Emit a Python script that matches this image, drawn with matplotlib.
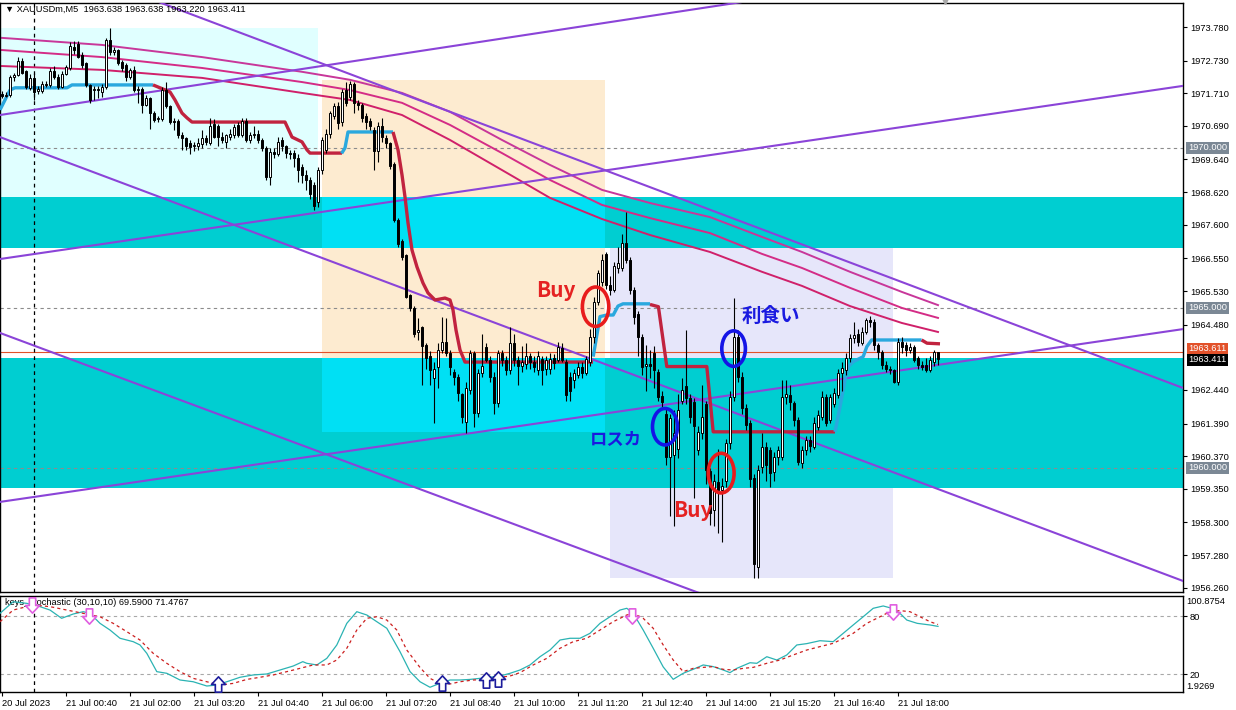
import matplotlib
matplotlib.use('Agg')
import matplotlib.pyplot as plt
import matplotlib.transforms as mtransforms
from matplotlib.patches import Rectangle, Ellipse
from matplotlib.path import Path
import numpy as np

plt.rcParams['font.family'] = ['Liberation Sans', 'DejaVu Sans']

# ---- XAUUSDm M5 candles, bar 0 = 20 Jul 23:20 ----
opens = [1971.68, 1971.62, 1971.66, 1972.23, 1972.28, 1972.73, 1972.40, 1971.86, 1972.20, 1971.78,
         1971.78, 1972.00, 1971.97, 1972.42, 1972.22, 1971.92, 1972.32, 1972.50, 1973.15, 1973.25,
         1972.90, 1972.65, 1971.97, 1971.80, 1971.85, 1971.76, 1971.92, 1973.38, 1973.00, 1973.05,
         1972.70, 1972.60, 1972.23, 1972.45, 1971.80, 1971.85, 1971.35, 1971.55, 1971.08, 1970.90,
         1970.90, 1971.80, 1971.30, 1970.85, 1970.85, 1970.42, 1970.30, 1970.15, 1970.05, 1970.05,
         1970.12, 1970.30, 1970.15, 1970.75, 1970.70, 1970.35, 1970.20, 1970.35, 1970.40, 1970.72,
         1970.42, 1970.85, 1970.25, 1970.40, 1970.45, 1970.25, 1970.00, 1969.10, 1969.88, 1969.82,
         1970.25, 1970.05, 1969.85, 1969.85, 1969.70, 1969.40, 1969.15, 1969.00, 1968.85, 1968.30,
         1969.30, 1969.95, 1970.45, 1971.00, 1971.30, 1970.80, 1971.80, 1971.60, 1972.00, 1971.40,
         1971.35, 1971.00, 1970.85, 1970.55, 1969.90, 1970.70, 1970.30, 1970.15, 1969.50, 1967.75,
         1967.10, 1966.65, 1965.40, 1965.00, 1964.25, 1964.40, 1963.85, 1963.50, 1962.80, 1963.15,
         1963.70, 1963.95, 1963.60, 1963.00, 1962.85, 1962.30, 1961.45, 1962.45, 1963.58, 1961.71,
         1962.96, 1963.79, 1963.38, 1962.85, 1962.02, 1963.58, 1963.38, 1963.06, 1963.90, 1963.38,
         1963.20, 1963.25, 1963.50, 1963.30, 1963.06, 1963.40, 1963.10, 1963.10, 1963.45, 1963.38,
         1963.75, 1963.30, 1962.85, 1962.75, 1962.90, 1963.17, 1962.96, 1963.30, 1964.10, 1965.20,
         1965.80, 1966.70, 1965.72, 1965.55, 1966.25, 1966.25, 1967.02, 1966.50, 1965.56, 1964.80,
         1964.10, 1963.20, 1963.25, 1963.60, 1963.00, 1962.25, 1961.70, 1960.35, 1960.40, 1960.60,
         1962.10, 1962.55, 1962.20, 1962.05, 1960.56, 1961.10, 1962.00, 1959.90, 1958.70, 1959.55,
         1959.30, 1959.60, 1960.77, 1962.23, 1964.10, 1962.85, 1961.86, 1961.40, 1959.70, 1956.90,
         1960.04, 1960.67, 1960.56, 1959.88, 1960.35, 1960.35, 1962.23, 1962.28, 1962.02, 1961.50,
         1960.15, 1960.56, 1960.88, 1960.67, 1961.29, 1961.60, 1962.23, 1961.50, 1962.00, 1962.28,
         1962.96, 1963.06, 1963.43, 1964.05, 1964.20, 1963.90, 1964.26, 1964.63, 1964.57, 1963.84,
         1963.64, 1963.22, 1963.10, 1963.05, 1962.70, 1963.95, 1963.84, 1963.69, 1963.79, 1963.43,
         1963.22, 1963.22, 1963.06, 1963.32, 1963.638]
highs = [1971.78, 1971.75, 1972.28, 1972.35, 1972.85, 1972.80, 1972.45, 1972.30, 1972.35, 1971.95,
         1972.10, 1972.10, 1972.50, 1972.55, 1972.30, 1972.40, 1972.60, 1973.30, 1973.35, 1973.35,
         1973.00, 1972.70, 1972.00, 1971.95, 1971.95, 1972.00, 1973.45, 1973.74, 1973.15, 1973.10,
         1972.75, 1972.65, 1972.50, 1972.55, 1971.95, 1971.90, 1971.65, 1971.60, 1971.15, 1971.00,
         1971.90, 1972.07, 1971.35, 1970.95, 1970.90, 1970.50, 1970.35, 1970.25, 1970.20, 1970.30,
         1970.55, 1970.40, 1970.95, 1970.90, 1970.75, 1970.50, 1970.45, 1970.60, 1970.75, 1970.80,
         1970.95, 1970.95, 1970.50, 1970.70, 1970.55, 1970.30, 1970.05, 1970.00, 1970.00, 1970.35,
         1970.35, 1970.10, 1969.95, 1969.95, 1969.80, 1969.50, 1969.30, 1969.10, 1968.95, 1969.40,
         1970.35, 1970.60, 1971.15, 1971.40, 1971.45, 1971.85, 1972.05, 1972.10, 1972.07, 1971.50,
         1971.40, 1971.10, 1970.95, 1970.65, 1970.80, 1970.95, 1970.40, 1970.20, 1969.55, 1967.80,
         1967.15, 1966.70, 1965.45, 1965.05, 1964.70, 1964.45, 1963.90, 1963.65, 1963.30, 1963.90,
         1964.73, 1964.70, 1963.70, 1963.10, 1962.95, 1962.35, 1962.70, 1963.70, 1963.65, 1963.10,
         1964.20, 1963.90, 1963.50, 1963.00, 1963.70, 1963.70, 1963.50, 1964.42, 1964.20, 1963.50,
         1963.80, 1963.90, 1963.60, 1963.50, 1963.65, 1963.50, 1963.50, 1963.60, 1963.55, 1963.95,
         1963.90, 1963.40, 1963.00, 1963.10, 1963.30, 1963.30, 1963.50, 1964.35, 1965.35, 1966.20,
         1966.70, 1966.75, 1966.00, 1966.45, 1966.90, 1967.30, 1968.00, 1966.60, 1965.65, 1964.90,
         1964.20, 1963.85, 1963.70, 1963.80, 1963.10, 1962.40, 1961.90, 1961.70, 1961.80, 1962.30,
         1962.80, 1964.30, 1962.30, 1962.20, 1961.30, 1962.60, 1962.10, 1960.00, 1959.80, 1960.60,
         1959.70, 1960.90, 1962.40, 1965.30, 1964.30, 1963.00, 1962.00, 1961.50, 1959.80, 1960.10,
         1961.10, 1960.80, 1960.65, 1960.50, 1960.70, 1962.75, 1962.75, 1962.60, 1962.10, 1961.60,
         1960.70, 1961.00, 1961.00, 1961.60, 1961.80, 1962.40, 1962.30, 1962.30, 1962.50, 1963.10,
         1963.30, 1963.60, 1964.20, 1964.57, 1964.35, 1964.40, 1964.70, 1964.75, 1964.65, 1963.90,
         1963.70, 1963.35, 1963.20, 1963.10, 1964.05, 1964.10, 1963.95, 1963.90, 1963.85, 1963.50,
         1963.35, 1963.45, 1963.50, 1963.70, 1963.638]
lows = [1971.55, 1971.58, 1971.60, 1972.10, 1972.25, 1972.30, 1971.85, 1971.80, 1971.50, 1971.70,
        1971.72, 1971.90, 1971.90, 1972.15, 1971.85, 1971.88, 1972.28, 1972.45, 1972.95, 1972.80,
        1972.50, 1971.90, 1971.40, 1971.50, 1971.55, 1971.60, 1971.85, 1972.90, 1972.90, 1972.60,
        1972.40, 1972.10, 1972.15, 1971.75, 1971.40, 1971.10, 1971.30, 1970.60, 1970.80, 1970.80,
        1970.85, 1971.25, 1970.75, 1970.55, 1970.30, 1969.95, 1969.95, 1969.80, 1969.90, 1969.95,
        1970.00, 1970.10, 1970.10, 1970.30, 1970.05, 1970.15, 1970.00, 1970.25, 1970.30, 1970.35,
        1970.35, 1970.20, 1970.15, 1970.30, 1970.15, 1969.90, 1969.00, 1968.85, 1969.70, 1969.75,
        1969.90, 1969.70, 1969.65, 1969.40, 1968.95, 1968.90, 1968.70, 1968.40, 1968.05, 1968.15,
        1969.20, 1969.85, 1970.30, 1970.90, 1970.60, 1970.70, 1971.30, 1971.50, 1971.10, 1971.20,
        1970.80, 1970.60, 1970.55, 1969.30, 1969.55, 1970.20, 1970.00, 1969.35, 1967.70, 1966.90,
        1966.50, 1965.30, 1964.90, 1964.10, 1964.00, 1962.60, 1963.10, 1962.60, 1961.40, 1962.50,
        1963.60, 1963.50, 1962.90, 1962.60, 1962.10, 1961.40, 1961.10, 1962.30, 1961.29, 1961.60,
        1962.85, 1963.30, 1962.70, 1961.70, 1961.90, 1963.20, 1962.90, 1962.95, 1963.20, 1962.60,
        1963.00, 1963.10, 1963.10, 1963.00, 1962.90, 1962.60, 1962.90, 1962.95, 1963.10, 1963.30,
        1963.30, 1962.10, 1962.10, 1962.50, 1962.80, 1962.80, 1962.90, 1963.20, 1963.90, 1965.10,
        1965.70, 1965.60, 1965.40, 1965.50, 1966.10, 1966.15, 1966.40, 1965.45, 1964.50, 1963.50,
        1962.90, 1962.40, 1962.80, 1962.50, 1962.10, 1961.90, 1960.10, 1958.50, 1958.20, 1960.30,
        1962.00, 1962.00, 1961.40, 1959.05, 1960.40, 1960.90, 1959.50, 1958.22, 1958.20, 1957.96,
        1957.70, 1959.40, 1960.60, 1962.10, 1962.70, 1961.70, 1961.20, 1959.40, 1956.55, 1956.55,
        1959.85, 1959.60, 1959.40, 1959.60, 1960.10, 1960.25, 1962.00, 1961.80, 1961.30, 1960.10,
        1960.00, 1960.40, 1960.50, 1960.60, 1961.20, 1961.50, 1961.30, 1961.40, 1961.90, 1962.20,
        1962.40, 1962.90, 1963.30, 1963.90, 1963.80, 1963.85, 1964.20, 1964.40, 1963.70, 1963.40,
        1963.10, 1963.00, 1962.95, 1962.65, 1962.60, 1963.60, 1963.50, 1963.60, 1963.30, 1963.10,
        1963.05, 1963.00, 1963.00, 1963.20, 1963.220]
closes = [1971.62, 1971.66, 1972.23, 1972.28, 1972.73, 1972.35, 1971.92, 1972.18, 1971.76, 1971.85,
          1972.00, 1971.98, 1972.42, 1972.22, 1971.92, 1972.32, 1972.54, 1973.20, 1973.05, 1972.85,
          1972.60, 1971.97, 1971.50, 1971.85, 1971.82, 1971.92, 1973.38, 1973.00, 1973.05, 1972.65,
          1972.50, 1972.23, 1972.43, 1971.80, 1971.85, 1971.35, 1971.55, 1971.08, 1970.88, 1970.95,
          1971.82, 1971.30, 1970.80, 1970.80, 1970.42, 1970.30, 1970.05, 1970.02, 1970.10, 1970.15,
          1970.30, 1970.20, 1970.70, 1970.35, 1970.35, 1970.25, 1970.40, 1970.45, 1970.65, 1970.41,
          1970.85, 1970.25, 1970.40, 1970.45, 1970.25, 1969.99, 1969.10, 1969.88, 1969.82, 1970.20,
          1970.05, 1969.83, 1969.80, 1969.68, 1969.30, 1969.15, 1969.00, 1968.55, 1968.20, 1969.30,
          1970.25, 1970.45, 1971.08, 1971.30, 1970.77, 1971.75, 1971.40, 1972.00, 1971.40, 1971.35,
          1970.95, 1970.80, 1970.70, 1969.90, 1970.70, 1970.35, 1970.15, 1969.45, 1967.75, 1967.00,
          1966.60, 1965.35, 1965.00, 1964.20, 1964.30, 1963.80, 1963.45, 1963.05, 1963.10, 1963.70,
          1963.95, 1963.60, 1963.17, 1962.85, 1962.33, 1961.60, 1962.50, 1963.58, 1961.71, 1962.96,
          1963.20, 1963.38, 1962.85, 1962.02, 1963.58, 1963.38, 1963.06, 1963.90, 1963.38, 1963.20,
          1963.30, 1963.50, 1963.30, 1963.17, 1963.50, 1963.06, 1963.38, 1963.40, 1963.27, 1963.79,
          1963.38, 1962.28, 1962.40, 1962.96, 1963.17, 1962.96, 1963.40, 1964.10, 1965.20, 1966.08,
          1966.50, 1965.72, 1965.55, 1966.30, 1966.40, 1967.02, 1966.50, 1965.56, 1964.73, 1964.10,
          1963.17, 1963.25, 1963.20, 1963.06, 1962.23, 1962.07, 1960.35, 1961.55, 1961.10, 1961.80,
          1962.45, 1962.20, 1961.60, 1961.30, 1961.13, 1961.60, 1959.95, 1958.60, 1959.60, 1959.30,
          1959.45, 1960.77, 1962.23, 1964.10, 1962.85, 1961.86, 1961.34, 1959.67, 1957.00, 1959.95,
          1960.67, 1960.10, 1959.83, 1960.35, 1960.56, 1962.23, 1962.30, 1962.07, 1961.50, 1960.20,
          1960.56, 1960.88, 1960.70, 1961.40, 1961.66, 1962.23, 1961.40, 1962.23, 1962.33, 1962.96,
          1963.11, 1963.43, 1964.05, 1964.16, 1963.95, 1964.26, 1964.63, 1964.57, 1963.84, 1963.64,
          1963.22, 1963.10, 1963.05, 1962.70, 1963.95, 1963.79, 1963.69, 1963.79, 1963.38, 1963.22,
          1963.17, 1963.06, 1963.38, 1963.64, 1963.411]

# moving averages (read at a few bars)
ma_bars = [0, 25, 50, 75, 87, 100, 112, 125, 137, 150, 162, 177, 190, 200, 212, 225, 234]
ma_fast = [1973.44, 1973.22, 1972.84, 1972.38, 1972.13, 1971.72, 1971.13, 1970.25, 1969.47, 1968.69,
           1968.28, 1967.84, 1967.22, 1966.75, 1966.13, 1965.50, 1965.09]
ma_mid = [1973.06, 1972.84, 1972.50, 1972.06, 1971.81, 1971.41, 1970.72, 1969.84, 1969.00, 1968.22,
          1967.81, 1967.34, 1966.69, 1966.25, 1965.63, 1965.00, 1964.69]
ma_slow = [1972.56, 1972.44, 1972.19, 1971.72, 1971.50, 1971.03, 1970.25, 1969.31, 1968.44, 1967.78,
           1967.28, 1966.75, 1966.13, 1965.69, 1965.06, 1964.53, 1964.25]

# stepped trend line, cyan = up, red = down
trend_segments = [
    ('up', [-0.5, 0.75, 2, 3.25, 16.25, 17.5, 37.75],
           [1971.19, 1971.50, 1971.81, 1971.88, 1971.88, 1971.97, 1971.97]),
    ('down', [37.75, 39.5, 42, 43.25, 45, 46.25, 47.5, 70.75, 72.5, 75, 76.25, 77, 85],
             [1971.97, 1971.88, 1971.75, 1971.50, 1971.09, 1970.94, 1970.81, 1970.81, 1970.34,
              1970.19, 1969.94, 1969.84, 1969.84]),
    ('up', [84.9, 85.75, 86.5, 97.75], [1969.83, 1970.00, 1970.50, 1970.50]),
    ('down', [97.75, 99, 100, 100.75, 101.5, 102.5, 103.75, 105.25, 106.5, 108.25, 110.75, 112,
              112.75, 113.5, 114.5, 115.75, 147.75],
             [1970.50, 1969.94, 1969.16, 1968.47, 1967.66, 1966.81, 1966.28, 1965.78, 1965.47,
              1965.25, 1965.31, 1965.25, 1964.94, 1964.31, 1963.69, 1963.31, 1963.31]),
    ('up', [147.8, 149.5, 151.2, 152.8, 154, 155.25, 162],
           [1963.48, 1964.73, 1964.78, 1964.78, 1965.06, 1965.13, 1965.13]),
    ('down', [162, 164.1, 166.2, 176.2, 177.8, 208.25],
             [1965.11, 1965.04, 1963.17, 1963.17, 1961.13, 1961.13]),
    ('up', [208.25, 209.5, 210.75, 211.6, 212.8, 215.3, 216.2, 217.4, 229.9],
           [1961.13, 1961.91, 1962.75, 1963.17, 1963.32, 1963.48, 1963.79, 1964.00, 1964.00]),
    ('down', [229.9, 231.25, 234.5], [1964.00, 1963.90, 1963.88]),
]

# trend lines (bar0, price0, bar1, price1)
trend_lines = [
    (-0.5, 1971.03, 295.25, 1976.66),
    (-0.5, 1966.53, 295.25, 1971.94),
    (-0.5, 1958.94, 295.25, 1964.34),
    (-0.5, 1976.43, 295.25, 1962.50),
    (-0.5, 1970.34, 295.25, 1956.47),
    (-0.5, 1964.22, 295.25, 1950.47),
]

# zones (bar0, bar1, price_lo, price_hi, colour)
zones = [
    (-0.5, 79, 1968.47, 1973.75, '#e0ffff'),
    (80, 150.75, 1961.13, 1972.13, '#fdebd0'),
    (152, 222.75, 1956.56, 1968.03, '#e6e6fa'),
    (-0.5, 295.25, 1966.88, 1968.47, '#00ced1'),
    (-0.5, 295.25, 1959.38, 1963.44, '#00ced1'),
    (80, 150.75, 1966.88, 1968.47, '#00e0f4'),
    (80, 150.75, 1961.13, 1963.44, '#00e0f4'),
]

levels = [1970.0, 1965.0, 1960.0]
ask_price = 1963.611
bid_price = 1963.411
price_ticks = [1973.780, 1972.730, 1971.710, 1970.690, 1969.640, 1968.620, 1967.600, 1966.550,
               1965.530, 1964.480, 1962.440, 1961.390, 1960.370, 1959.350, 1958.300, 1957.280,
               1956.260]

# stochastic (30,10,10)
stoch_bars = [-0.5, 2.8, 6.2, 9.5, 12, 14.9, 17.8, 20.3, 22, 24.5, 27, 29.5, 32.8, 34.5, 36.2, 38.7,
              41.2, 44.5, 47.8, 51.2, 53.7, 56.2, 59.5, 62.8, 66.2, 69.5, 72.8, 75.2, 76.2, 78.7,
              81.2, 83.7, 86.2, 88.7, 91.2, 93.7, 96.2, 99.5, 102, 104.5, 107, 109.5, 112, 114.5,
              117, 119.5, 122, 124.5, 127, 129.5, 132, 134.5, 137, 139.5, 142, 144.5, 147, 149.5,
              152, 154.5, 156.2, 157.8, 160.3, 162.8, 165.3, 167.8, 170.3, 172.8, 175.3, 177.8,
              180.3, 182, 183.7, 187, 188.7, 191.2, 193.7, 196.2, 198.7, 201.2, 204.5, 207.8,
              210.3, 212.8, 215.3, 217.8, 220.3, 222.5, 224.5, 226.2, 228.8, 232, 234]
stoch_main = [83.0, 95.0, 93.3, 89.9, 86.4, 77.9, 82.3, 84.7, 83.0, 72.7, 65.8, 57.3, 53.8, 50.4,
              41.8, 22.9, 21.2, 14.3, 12.5, 8.1, 9.1, 12.5, 17.1, 19.5, 20.5, 24.6, 28.7, 33.2,
              31.5, 29.8, 36.6, 50.4, 72.7, 84.7, 81.3, 74.4, 67.6, 43.5, 23.0, 12.5, 6.8, 10.9,
              14.3, 14.3, 14.9, 16.0, 17.1, 18.4, 21.2, 24.6, 29.8, 38.3, 45.2, 55.5, 57.3, 57.3,
              62.4, 72.7, 79.5, 86.4, 88.2, 83.0, 65.8, 47.0, 27.8, 15.0, 21.2, 25.3, 29.8, 28.1,
              24.6, 21.9, 26.3, 32.1, 31.5, 38.3, 34.9, 40.1, 50.4, 51.8, 54.8, 53.8, 62.4, 71.0,
              79.5, 88.2, 90.6, 88.2, 83.0, 76.1, 72.7, 71.0, 69.59]
signal_bars = [-0.5, 2.8, 7.8, 12, 16.2, 20.3, 24.5, 27.8, 31.2, 34.5, 37.8, 41.2, 44.5, 47.8, 51.2,
               54.5, 57.8, 61.2, 64.5, 67.8, 71.2, 74.5, 77.8, 81.2, 83.7, 86.2, 88.7, 91.2, 93.7,
               96.2, 98.7, 101.2, 104.5, 107, 109.5, 112, 114.5, 117.8, 121.2, 124.5, 127, 129.5,
               132.8, 136.2, 139.5, 142.8, 146.2, 149.5, 152.8, 156.2, 157.8, 160.3, 162.8, 165.3,
               167.8, 170.3, 172.8, 175.3, 177.8, 180.3, 182.8, 185.3, 187.8, 191.2, 194.5, 197.8,
               201.2, 204.5, 207.8, 209.5, 212.8, 216.2, 219.5, 222, 224.5, 227, 229.5, 232, 234]
stoch_signal = [74.4, 86.4, 91.6, 89.9, 86.4, 83.0, 79.5, 72.7, 64.1, 55.5, 41.8, 31.5, 22.9, 16.0,
                12.5, 9.1, 10.8, 14.9, 17.1, 19.5, 22.9, 26.3, 29.8, 29.8, 34.9, 47.0, 65.8, 77.9,
                79.5, 76.1, 65.8, 45.2, 27.2, 16.0, 10.8, 10.2, 12.5, 14.3, 14.9, 17.1, 18.4, 21.9,
                29.8, 36.6, 47.0, 53.8, 57.3, 65.8, 74.4, 81.3, 83.0, 77.9, 67.6, 50.4, 34.9, 22.9,
                26.3, 27.3, 28.1, 25.3, 24.6, 26.3, 27.3, 31.5, 34.9, 40.1, 45.2, 48.7, 52.1, 55.5,
                62.4, 72.7, 79.5, 84.7, 85.8, 84.7, 79.5, 74.4, 71.48]
sell_arrows = [(7.6, 91.6), (21.75, 80.3), (157.6, 79.8), (222.75, 84.4)]
buy_arrows = [(53.9, 9.7), (110, 11.2), (121, 13.8), (124, 15.8)]
stoch_max, stoch_min = 100.8754, 1.9269

tick_bars = list(range(0, 225, 16))
tick_labels = ['20 Jul 2023', '21 Jul 00:40', '21 Jul 02:00', '21 Jul 03:20', '21 Jul 04:40',
               '21 Jul 06:00', '21 Jul 07:20', '21 Jul 08:40', '21 Jul 10:00', '21 Jul 11:20',
               '21 Jul 12:40', '21 Jul 14:00', '21 Jul 15:20', '21 Jul 16:40', '21 Jul 18:00']
day_sep = 8

# annotations: (text, bar, price, colour, size, va)
notes = [('Buy', 138.5, 1965.34, '#e52222', 15, 'baseline'),
         ('利食い', 192.25, 1964.75, '#1a1ae0', 14, 'center'),
         ('ロスカ', 153.5, 1960.88, '#1a1ae0', 12.5, 'center'),
         ('Buy', 172.75, 1958.47, '#e52222', 15, 'baseline')]
# circles: (bar, price, width in bars, height in price, colour)
circles = [(148.4, 1965.04, 6.6, 1.23, '#e81c1c'),
           (182.9, 1963.73, 5.9, 1.11, '#1414e6'),
           (165.75, 1961.29, 6.25, 1.14, '#1414e6'),
           (179.8, 1959.84, 6.45, 1.24, '#e81c1c')]

W, H = 1236, 710
fig = plt.figure(figsize=(W / 100, H / 100), dpi=100)
fig.patch.set_facecolor('white')
ax = fig.add_axes([0, (H - 592) / H, 1183 / W, 589 / H])
sx = fig.add_axes([0, (H - 692) / H, 1183 / W, 96 / H])

xmin, xmax = -0.5, 295.25
ax.set_xlim(xmin, xmax)
ax.set_ylim(1956.125, 1974.53)

for b0, b1, lo, hi, col in zones:
    ax.add_patch(Rectangle((b0, lo), b1 - b0, hi - lo, facecolor=col, edgecolor='none', zorder=0))

for lv in levels:
    ax.axhline(lv, color='#8c8c8c', lw=0.8, ls=(0, (3, 3)), zorder=1)
ax.axhline(ask_price, color='#e2512a', lw=0.8, zorder=1)
ax.axvline(day_sep, color='black', lw=0.9, ls=(0, (3, 3)), zorder=1)

ax.plot(ma_bars, ma_fast, color='#c8379a', lw=1.4, zorder=2)
ax.plot(ma_bars, ma_mid, color='#d42c86', lw=1.4, zorder=2)
ax.plot(ma_bars, ma_slow, color='#d0206a', lw=1.4, zorder=2)

for b0, p0, b1, p1 in trend_lines:
    ax.plot([b0, b1], [p0, p1], color='#8b44d8', lw=1.5, zorder=3)

for kind, bx, py in trend_segments:
    ax.plot(bx, py, color='#2aa8de' if kind == 'up' else '#c1233f', lw=2.4,
            solid_capstyle='butt', zorder=3.5)

o = np.array(opens)
h = np.array(highs)
l = np.array(lows)
c = np.array(closes)
idx = np.arange(len(c))
up = c >= o
ax.vlines(idx, l, h, color='black', lw=0.8, zorder=4)
ax.bar(idx[up], (c - o)[up], bottom=o[up], width=0.55, color='white', edgecolor='black',
       lw=0.7, zorder=5)
ax.bar(idx[~up], (o - c)[~up], bottom=c[~up], width=0.55, color='black', edgecolor='black',
       lw=0.7, zorder=5)

for bx, py, w, hh, col in circles:
    ax.add_patch(Ellipse((bx, py), w, hh, facecolor='none', edgecolor=col, lw=2.6, zorder=6))
for txt, bx, py, col, fs, va in notes:
    ax.text(bx, py, txt, color=col, fontsize=fs, fontweight='bold', ha='center', va=va,
            family=['Noto Sans CJK JP', 'DejaVu Sans'], zorder=7)

ax.yaxis.tick_right()
ax.set_yticks(price_ticks)
ax.set_yticklabels([f'{p:.3f}' for p in price_ticks])
ax.tick_params(axis='y', length=3, width=0.8, labelsize=6.7, pad=2, direction='out')
ax.tick_params(axis='x', bottom=False, labelbottom=False)

trans = mtransforms.blended_transform_factory(ax.transAxes, ax.transData)
for lv in levels:
    ax.text(1188 / 1183, lv, f'{lv:.3f}', transform=trans, fontsize=6.7, color='white',
            ha='left', va='center', clip_on=False,
            bbox=dict(facecolor='#7b8895', edgecolor='none', pad=1.3))
# ask label sits mostly behind the bid label, as in the terminal
ax.text(1188 / 1183, ask_price + 0.12, f'{ask_price:.3f}', transform=trans, fontsize=6.7,
        color='white', ha='left', va='center', clip_on=False,
        bbox=dict(facecolor='#e2512a', edgecolor='none', pad=1.0))
ax.text(1188 / 1183, bid_price - 0.03, f'{bid_price:.3f}', transform=trans, fontsize=6.7,
        color='white', ha='left', va='center', clip_on=False,
        bbox=dict(facecolor='black', edgecolor='none', pad=1.0))
ax.plot(235.75, 1974.62, marker='v', color='#a8a8a8', ms=6, clip_on=False, zorder=8)

for sp in ax.spines.values():
    sp.set_color('black')
    sp.set_linewidth(1.0)

# stochastic panel
sx.set_xlim(xmin, xmax)
sx.set_ylim(stoch_min, stoch_max)
sx.axhline(80, color='#a8a8a8', lw=0.8, ls=(0, (3, 3)))
sx.axhline(20, color='#a8a8a8', lw=0.8, ls=(0, (3, 3)))
sx.axvline(day_sep, color='black', lw=0.9, ls=(0, (3, 3)))
sx.plot(stoch_bars, stoch_main, color='#2bb3b3', lw=0.9, zorder=3)
sx.plot(signal_bars, stoch_signal, color='#cc1f1f', lw=0.9, ls=(0, (2.5, 2.5)), zorder=3)

down_arrow = Path([(-0.25, 0.6), (0.25, 0.6), (0.25, 0.0), (0.55, 0.0), (0.0, -0.6),
                   (-0.55, 0.0), (-0.25, 0.0), (-0.25, 0.6)], closed=True)
up_arrow = Path([(-0.25, -0.6), (0.25, -0.6), (0.25, 0.0), (0.55, 0.0), (0.0, 0.6),
                 (-0.55, 0.0), (-0.25, 0.0), (-0.25, -0.6)], closed=True)
for bx, v in sell_arrows:
    sx.plot(bx, v, marker=down_arrow, ms=11, mfc='white', mec='#e05ee0', mew=1.2, zorder=4)
for bx, v in buy_arrows:
    sx.plot(bx, v, marker=up_arrow, ms=11, mfc='white', mec='#1c1c9c', mew=1.2, zorder=4)

sx.yaxis.tick_right()
sx.set_yticks([80, 20])
sx.set_yticklabels(['80', '20'])
sx.tick_params(axis='y', length=3, width=0.8, labelsize=6.7, pad=2)
strans = mtransforms.blended_transform_factory(sx.transAxes, sx.transData)
sx.text(1186 / 1183, 95.7, f'{stoch_max:.4f}', transform=strans, fontsize=6.7, ha='left',
        va='center', clip_on=False)
sx.text(1186 / 1183, 8.1, f'{stoch_min:.4f}', transform=strans, fontsize=6.7, ha='left',
        va='center', clip_on=False)
sx.text(5 / 1183, 94.2, 'keys_stochastic (30,10,10) 69.5900 71.4767', fontsize=6.7,
        transform=strans, ha='left', va='center', zorder=2)

sx.set_xticks(tick_bars)
sx.set_xticklabels(tick_labels)
for lbl in sx.get_xticklabels():
    lbl.set_horizontalalignment('left')
sx.tick_params(axis='x', length=3, width=0.8, labelsize=6.7, pad=2)
for sp in sx.spines.values():
    sp.set_color('black')
    sp.set_linewidth(1.0)

fig.text(5 / W, 1 - 9 / H, '▼ XAUUSDm,M5  1963.638 1963.638 1963.220 1963.411', fontsize=6.7,
         ha='left', va='center')

fig.savefig('out.png', dpi=100)
